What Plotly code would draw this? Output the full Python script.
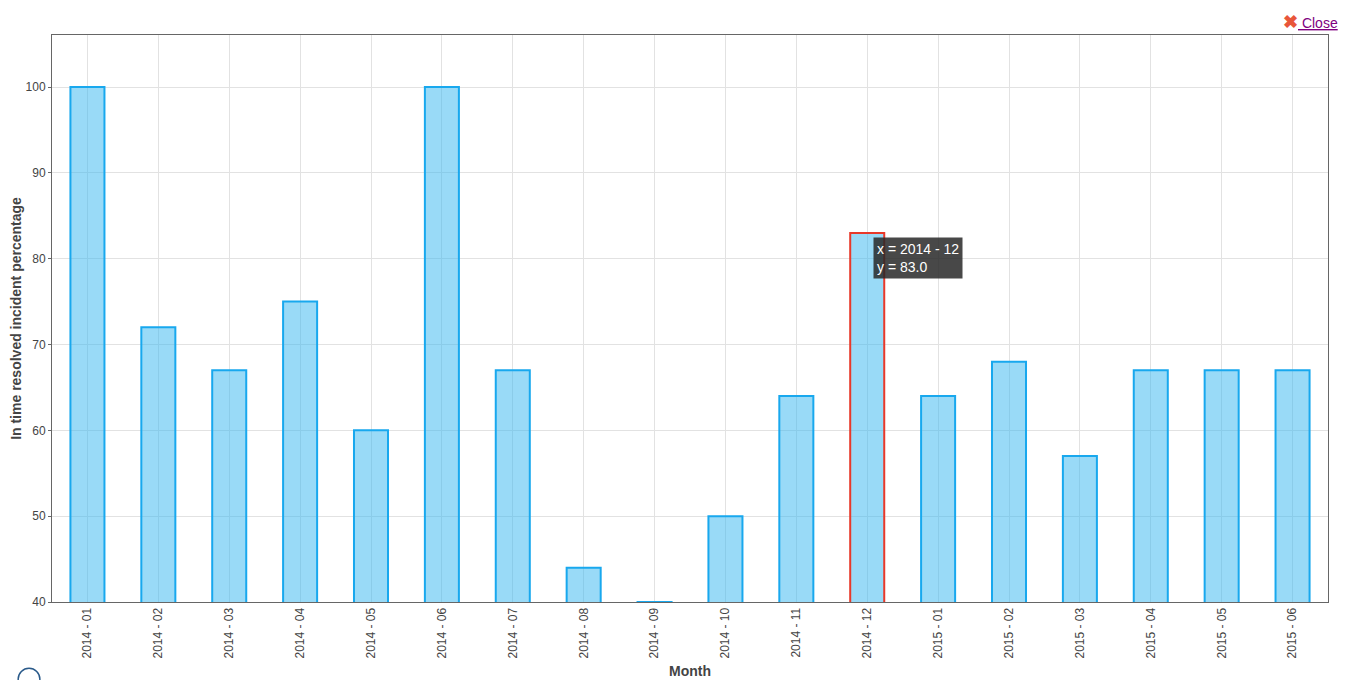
import plotly.graph_objects as go

months = ["2014 - 01", "2014 - 02", "2014 - 03", "2014 - 04", "2014 - 05", "2014 - 06",
          "2014 - 07", "2014 - 08", "2014 - 09", "2014 - 10", "2014 - 11", "2014 - 12",
          "2015 - 01", "2015 - 02", "2015 - 03", "2015 - 04", "2015 - 05", "2015 - 06"]
values = [100, 72, 67, 75, 60, 100, 67, 44, 40, 50, 64, 83, 64, 68, 57, 67, 67, 67]
highlight = "2014 - 12"
y_ticks = [40, 50, 60, 70, 80, 90, 100]

line_colors = ["#e8392a" if m == highlight else "#18a8ee" for m in months]

fig = go.Figure(go.Bar(
    x=months, y=values, base=0,
    marker=dict(color="rgba(51,181,239,0.5)", line=dict(color=line_colors, width=2)),
    hoverinfo="skip",
))

hi = months.index(highlight)
fig.add_annotation(
    x=months[hi], y=values[hi], xref="x", yref="y",
    text="x = %s<br>y = %.1f" % (highlight, values[hi]),
    showarrow=False, xanchor="left", yanchor="top", xshift=6, yshift=-4,
    align="left", bgcolor="rgba(40,40,40,0.85)", borderpad=3,
    font=dict(color="white", size=14, family="Arial"),
)

fig.add_annotation(
    x=1, y=1, xref="paper", yref="paper", xanchor="right", yanchor="bottom",
    text="<span style='color:#e8563a;font-size:18px'><b>✖</b></span><u> Close</u>",
    showarrow=False, yshift=1, xshift=12,
    font=dict(color="#800080", size=14, family="Arial"),
)

fig.update_layout(
    width=1340, height=672,
    margin=dict(l=44, r=20, t=27, b=78, autoexpand=False),
    paper_bgcolor="white", plot_bgcolor="white",
    bargap=0.52, showlegend=False,
    font=dict(family="Arial", color="#444", size=12),
    xaxis=dict(
        type="category", range=[-0.5, 17.5], tickangle=-90,
        showgrid=True, gridcolor="#e2e2e2", gridwidth=1,
        showline=True, linecolor="#666", linewidth=1, mirror=True,
        ticks="", ticklen=0, tickfont=dict(size=12, color="#444"),
        title=dict(text="<b>Month</b>", font=dict(size=14, color="#444"), standoff=8),
        layer="above traces", automargin=False,
    ),
    yaxis=dict(
        range=[40, 106.06], tickvals=y_ticks,
        showgrid=True, gridcolor="#e2e2e2", gridwidth=1,
        showline=True, linecolor="#666", linewidth=1, mirror=True,
        ticks="outside", ticklen=3, tickcolor="#666",
        tickfont=dict(size=12, color="#444"),
        title=dict(text="<b>In time resolved incident percentage</b>", font=dict(size=14, color="#444"), standoff=6),
        zeroline=False, layer="above traces", automargin=False,
    ),
    shapes=[dict(type="circle", xref="paper", yref="paper",
                 x0=-0.0265, x1=-0.0095, y0=-0.155, y1=-0.117,
                 line=dict(color="#2a5a8a", width=1.5))],
)

fig.write_html("out.html")
